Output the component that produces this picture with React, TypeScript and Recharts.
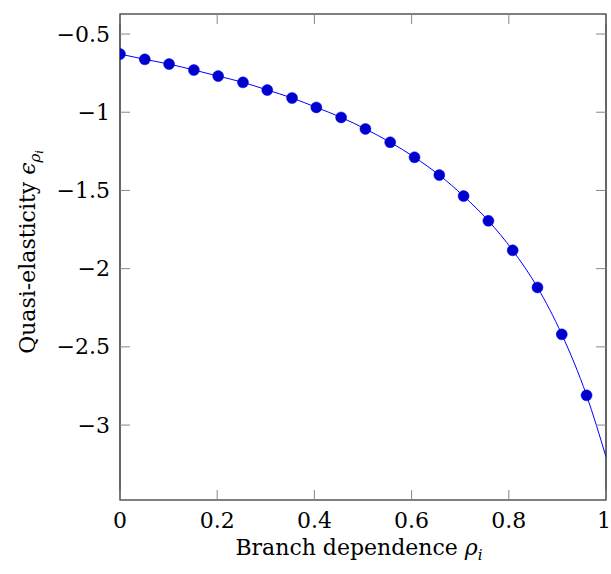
import React from 'react';
import { ComposedChart, Line, Scatter, XAxis, YAxis, ReferenceArea } from 'recharts';

// sampled points (marks)
const rho = [0, 0.051, 0.101, 0.152, 0.202, 0.253, 0.303, 0.354, 0.404, 0.455, 0.505, 0.556, 0.606, 0.657, 0.707, 0.758, 0.808, 0.859, 0.909, 0.96];
const eps = [-0.628, -0.662, -0.692, -0.73, -0.769, -0.809, -0.858, -0.909, -0.969, -1.033, -1.107, -1.192, -1.288, -1.402, -1.536, -1.694, -1.883, -2.12, -2.42, -2.81];

// the curve runs on to the right edge
const curveEndRho = 1;
const curveEndEps = -3.203;

const xTicks = [0, 0.2, 0.4, 0.6, 0.8, 1];
const yTicks = [-3, -2.5, -2, -1.5, -1, -0.5];

const W = 611;
const H = 574;
const LEFT = 120;
const RIGHT = 606;
const TOP = 14;
const BOTTOM = 500;
const FONT = 'DejaVu Serif';

const points = rho.map((r, i) => ({ rho: r, eps: eps[i] }));
const curve = [...points, { rho: curveEndRho, eps: curveEndEps }];

const fmt = (v: number) => (v < 0 ? '\u2212' + String(-v) : String(v));

const YTick = (props: any) => {
  const y = props.payload.coordinate;
  return (
    <g>
      <line x1={LEFT} x2={LEFT + 10} y1={y} y2={y} stroke="#888" />
      <line x1={RIGHT - 10} x2={RIGHT} y1={y} y2={y} stroke="#888" />
      <text x={LEFT - 10} y={y} textAnchor="end" dominantBaseline="central" fontFamily={FONT} fontSize={22} fill="#000">
        {fmt(props.payload.value)}
      </text>
    </g>
  );
};

const XTick = (props: any) => {
  const x = props.payload.coordinate;
  // last label sits at the page edge, keep it inside
  const atEdge = x + 7 > W;
  return (
    <g>
      <line x1={x} x2={x} y1={BOTTOM} y2={BOTTOM - 10} stroke="#888" />
      <line x1={x} x2={x} y1={TOP} y2={TOP + 10} stroke="#888" />
      <text x={atEdge ? W : x} y={528} textAnchor={atEdge ? 'end' : 'middle'} fontFamily={FONT} fontSize={22} fill="#000">
        {fmt(props.payload.value)}
      </text>
    </g>
  );
};

export default function App() {
  return (
    <div style={{ position: 'absolute', left: 0, top: 0, width: W, height: H, background: '#fff' }}>
      <ComposedChart width={W} height={H} margin={{ top: TOP, right: W - RIGHT, bottom: 0, left: 0 }}>
        <XAxis
          dataKey="rho"
          type="number"
          domain={[0, 1]}
          ticks={xTicks}
          tick={<XTick />}
          tickLine={false}
          axisLine={false}
          height={H - BOTTOM}
          allowDataOverflow
        />
        <YAxis
          dataKey="eps"
          type="number"
          domain={[-3.479, -0.372]}
          ticks={yTicks}
          tick={<YTick />}
          tickLine={false}
          axisLine={false}
          width={LEFT}
          allowDataOverflow
        />
        <Line
          data={curve}
          dataKey="eps"
          type="monotone"
          stroke="#0000ff"
          strokeWidth={1}
          dot={false}
          activeDot={false}
          isAnimationActive={false}
        />
        <Scatter
          data={points}
          dataKey="eps"
          fill="#0000cc"
          shape={(p: any) => <circle cx={p.cx} cy={p.cy} r={5.5} fill="#0000cc" stroke="#0000ff" strokeWidth={0.5} />}
          isAnimationActive={false}
        />
        <ReferenceArea x1={0} x2={1} y1={-3.479} y2={-0.372} fill="none" stroke="#000" strokeWidth={1.2} ifOverflow="visible" />
      </ComposedChart>
      <svg width={W} height={H} style={{ position: 'absolute', left: 0, top: 0, pointerEvents: 'none' }}>
        <text x={359} y={555} textAnchor="middle" fontFamily={FONT} fontSize={22} fill="#000">
          Branch dependence <tspan fontStyle="italic">ρ</tspan>
          <tspan fontStyle="italic" fontSize={15} dy={5}>i</tspan>
        </text>
        <text transform="translate(35, 252) rotate(-90)" textAnchor="middle" fontFamily={FONT} fontSize={22} fill="#000">
          Quasi-elasticity <tspan fontStyle="italic">ϵ</tspan>
          <tspan fontStyle="italic" fontSize={15} dy={5}>ρ</tspan>
          <tspan fontStyle="italic" fontSize={11} dy={3}>i</tspan>
        </text>
      </svg>
    </div>
  );
}
